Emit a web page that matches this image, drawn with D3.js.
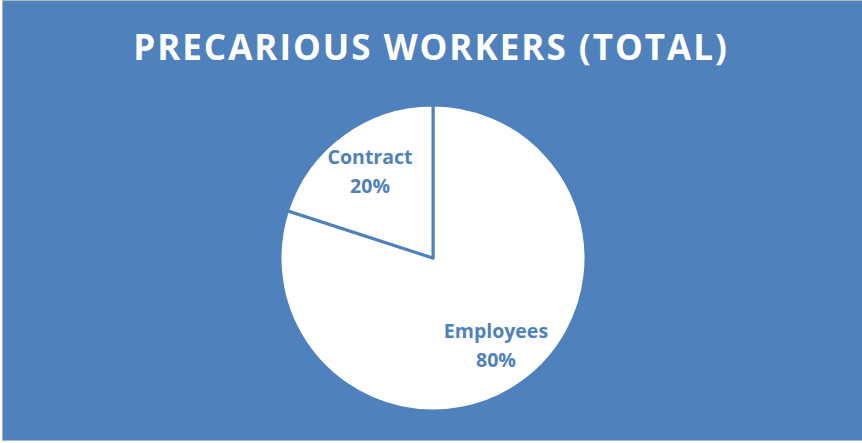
<!DOCTYPE html>
<html>
<head>
<meta charset="utf-8">
<script src="https://cdn.jsdelivr.net/npm/d3@7"></script>
<style>
  html, body { margin: 0; padding: 0; background: #ffffff; }
  svg { display: block; }
</style>
</head>
<body>
<svg id="chart" width="862" height="443"></svg>
<script>
// Share of precarious workers by type
const categories = ["Employees", "Contract"];
const shares = [80, 20];
const title = "PRECARIOUS WORKERS (TOTAL)";

const W = 862, H = 443;
const blue = "#4f81bd";
const svg = d3.select("#chart");

// Panel background with a faint frame on the left/top edges
svg.append("rect").attr("x", 0).attr("y", 0).attr("width", W).attr("height", H).attr("fill", "#ffffff");
svg.append("rect").attr("x", 2).attr("y", 0).attr("width", W - 2).attr("height", 441).attr("fill", "#a9b8c9");
svg.append("rect").attr("x", 3).attr("y", 1).attr("width", W - 3).attr("height", 439).attr("fill", blue);

svg.append("text")
  .attr("x", 431).attr("y", 60)
  .attr("text-anchor", "middle")
  .attr("fill", "#ffffff")
  .attr("font-family", "'Open Sans', 'Noto Sans', sans-serif")
  .attr("font-weight", "bold")
  .attr("font-size", 35)
  .attr("letter-spacing", 2)
  .text(title);

const cx = 433, cy = 258, r = 153;
const data = categories.map((c, i) => ({ name: c, value: shares[i] }));

const pie = d3.pie().value(d => d.value).sort(null);
const arc = d3.arc().innerRadius(0).outerRadius(r);
const labelArc = d3.arc().innerRadius(r * 0.7).outerRadius(r * 0.7);

const g = svg.append("g").attr("transform", `translate(${cx},${cy})`);
const arcs = pie(data);

g.selectAll("path.slice")
  .data(arcs)
  .join("path")
  .attr("class", "slice")
  .attr("d", arc)
  .attr("fill", "#ffffff")
  .attr("stroke", blue)
  .attr("stroke-width", 3)
  .attr("stroke-linejoin", "round");

const labels = g.selectAll("text.lbl")
  .data(arcs)
  .join("text")
  .attr("class", "lbl")
  .attr("transform", d => `translate(${labelArc.centroid(d)})`)
  .attr("text-anchor", "middle")
  .attr("fill", blue)
  .attr("font-family", "'Open Sans', 'Noto Sans', sans-serif")
  .attr("font-weight", "bold")
  .attr("font-size", 19.5);

labels.append("tspan").attr("x", 0).attr("y", -7).text(d => d.data.name);
labels.append("tspan").attr("x", 0).attr("y", 22).text(d => d.data.value + "%");
</script>
</body>
</html>
